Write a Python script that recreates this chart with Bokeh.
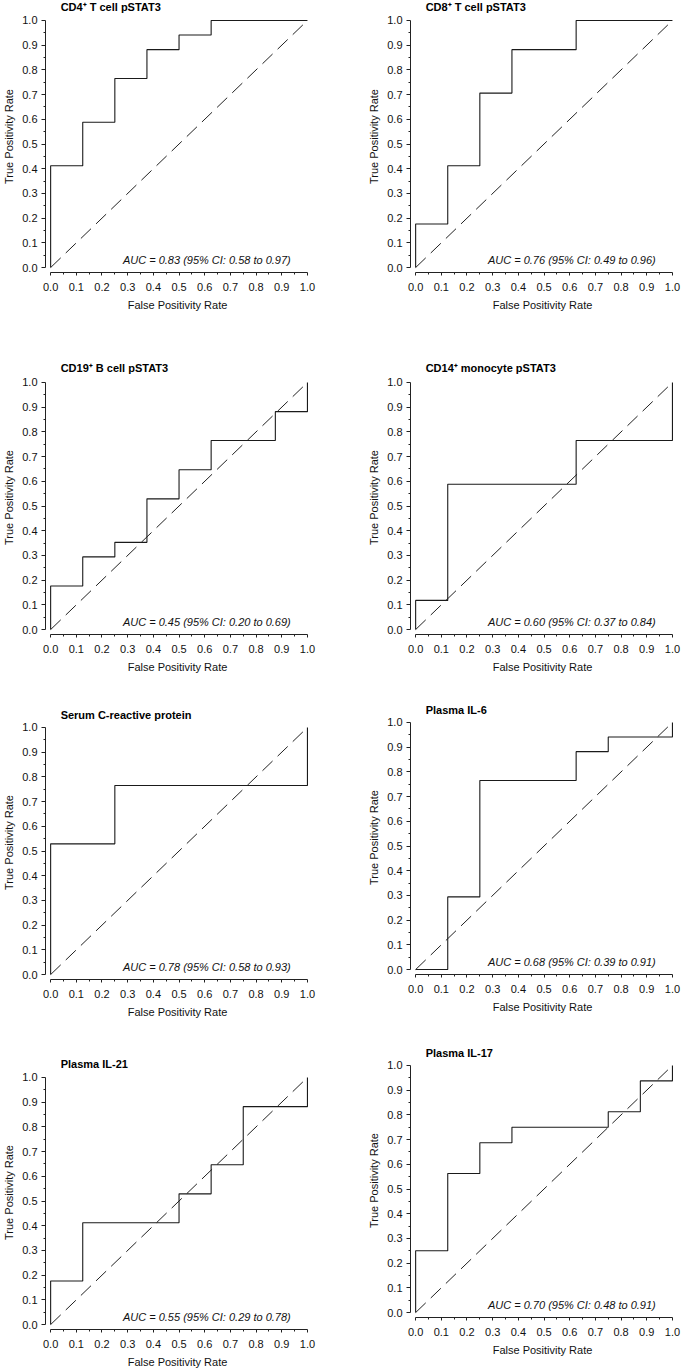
from bokeh.plotting import figure
from bokeh.layouts import column, row
from bokeh.models import Range1d, FixedTicker, PrintfTickFormatter, ColumnDataSource
from bokeh.core.properties import value
from bokeh.embed import file_html
from bokeh.resources import INLINE

# ---------------- data ----------------
titles = ["CD4\u207a T cell pSTAT3", "CD8\u207a T cell pSTAT3",
          "CD19\u207a B cell pSTAT3", "CD14\u207a monocyte pSTAT3",
          "Serum C-reactive protein", "Plasma IL-6",
          "Plasma IL-21", "Plasma IL-17"]

cd4_fpr = [0.0, 0.0, 0.125, 0.25, 0.375, 0.5, 0.625, 1.0]
cd4_tpr = [0.0, 0.412, 0.588, 0.765, 0.882, 0.941, 1.0, 1.0]

cd8_fpr = [0.0, 0.0, 0.125, 0.25, 0.375, 0.625, 1.0]
cd8_tpr = [0.0, 0.176, 0.412, 0.706, 0.882, 1.0, 1.0]

cd19_fpr = [0.0, 0.0, 0.125, 0.25, 0.375, 0.5, 0.625, 0.875, 1.0]
cd19_tpr = [0.0, 0.176, 0.294, 0.353, 0.529, 0.647, 0.765, 0.882, 1.0]

cd14_fpr = [0.0, 0.0, 0.125, 0.625, 1.0]
cd14_tpr = [0.0, 0.118, 0.588, 0.765, 1.0]

crp_fpr = [0.0, 0.0, 0.25, 1.0]
crp_tpr = [0.0, 0.529, 0.765, 1.0]

il6_fpr = [0.0, 0.125, 0.25, 0.625, 0.75, 1.0]
il6_tpr = [0.0, 0.294, 0.765, 0.882, 0.941, 1.0]

il21_fpr = [0.0, 0.0, 0.125, 0.5, 0.625, 0.75, 1.0]
il21_tpr = [0.0, 0.176, 0.412, 0.529, 0.647, 0.882, 1.0]

il17_fpr = [0.0, 0.0, 0.125, 0.25, 0.375, 0.75, 0.875, 1.0]
il17_tpr = [0.0, 0.25, 0.5625, 0.6875, 0.75, 0.8125, 0.9375, 1.0]

auc = [0.83, 0.76, 0.45, 0.60, 0.78, 0.68, 0.55, 0.70]
ci_low = [0.58, 0.49, 0.20, 0.37, 0.58, 0.39, 0.29, 0.48]
ci_high = [0.97, 0.96, 0.69, 0.84, 0.93, 0.91, 0.78, 0.91]

chance_fpr = [0.0, 1.0]
chance_tpr = [0.0, 1.0]

major_ticks = [0.0, 0.1, 0.2, 0.3, 0.4, 0.5, 0.6, 0.7, 0.8, 0.9, 1.0]
minor_ticks = [0.05, 0.15, 0.25, 0.35, 0.45, 0.55, 0.65, 0.75, 0.85, 0.95]

x_label = "False Positivity Rate"
y_label = "True Positivity Rate"

curves = [(cd4_fpr, cd4_tpr), (cd8_fpr, cd8_tpr), (cd19_fpr, cd19_tpr),
          (cd14_fpr, cd14_tpr), (crp_fpr, crp_tpr), (il6_fpr, il6_tpr),
          (il21_fpr, il21_tpr), (il17_fpr, il17_tpr)]

# ---------------- styling / layout ----------------
FONT = "Liberation Sans"
FW, FH = 264, 254
LO, HI = -0.02, 1.008
UNIT = FH / (HI - LO)          # pixels per data unit (vertical)
AUC_X, AUC_Y = 0.935, 0.03
TITLE_X, TITLE_Y = 0.0, 1.0

# (border_top, extra_px_above, border_bottom, border_left, border_right, title_dy)
borders = [
    (0, 18, 68, 45, 20, 13), (0, 18, 68, 81, 12, 13),
    (20, 20, 56, 45, 20, 14), (20, 20, 56, 81, 12, 14),
    (15, 20, 56, 45, 20, 12), (10, 20, 56, 81, 12, 12),
    (20, 20, 41, 45, 20, 13), (13, 20, 53, 81, 12, 12),
]


def style_axis(ax, label, is_x):
    ax.ticker = FixedTicker(ticks=major_ticks, minor_ticks=minor_ticks)
    ax.formatter = PrintfTickFormatter(format="%.1f")
    ax.bounds = (0, 1)
    ax.axis_label = label
    ax.axis_label_text_font = FONT
    ax.axis_label_text_font_size = "11px"
    ax.axis_label_text_font_style = "normal"
    ax.axis_label_text_color = "#111111"
    ax.major_label_text_font = FONT
    ax.major_label_text_font_size = "11px"
    ax.major_label_text_color = "#111111"
    ax.axis_line_color = "#222222"
    ax.major_tick_line_color = "#222222"
    ax.minor_tick_line_color = "#222222"
    ax.major_tick_in = 0
    ax.minor_tick_in = 0
    if is_x:
        ax.major_tick_out = 3
        ax.minor_tick_out = 2
        ax.major_label_standoff = 7
        ax.axis_label_standoff = 5
    else:
        ax.major_tick_out = 4
        ax.minor_tick_out = 2
        ax.major_label_standoff = 4
        ax.axis_label_standoff = 4


def make_panel(i):
    bt, extra, bb, bl, br, tdy = borders[i]
    p = figure(frame_width=FW, frame_height=FH + extra,
               x_range=Range1d(LO, HI), y_range=Range1d(LO, HI + extra / UNIT),
               output_backend="svg", toolbar_location=None,
               min_border_top=bt, min_border_bottom=bb,
               min_border_left=bl, min_border_right=br)
    p.outline_line_color = None
    p.xgrid.visible = False
    p.ygrid.visible = False
    p.background_fill_color = "white"
    p.border_fill_color = "white"
    style_axis(p.xaxis[0], x_label, True)
    style_axis(p.yaxis[0], y_label, False)

    p.text(x=[TITLE_X], y=[TITLE_Y], text=[titles[i]], x_offset=10,
           y_offset=-tdy, text_align="left", text_baseline="middle",
           text_font=value(FONT), text_font_size="11px",
           text_font_style="bold", text_color="#000000")

    p.line(chance_fpr, chance_tpr, line_color="#222222", line_width=1,
           line_dash="14 7")
    fpr, tpr = curves[i]
    src = ColumnDataSource(dict(fpr=fpr, tpr=tpr))
    p.step(x="fpr", y="tpr", source=src, mode="after",
           line_color="#1a1a1a", line_width=1.1)
    txt = "AUC = %.2f (95%% CI: %.2f to %.2f)" % (auc[i], ci_low[i], ci_high[i])
    p.text(x=[AUC_X], y=[AUC_Y], text=[txt], text_align="right",
           text_baseline="middle", text_font=value(FONT),
           text_font_size="11px", text_font_style="italic",
           text_color="#111111")
    return p


panels = [make_panel(i) for i in range(8)]
left_col = column(panels[0], panels[2], panels[4], panels[6])
right_col = column(panels[1], panels[3], panels[5], panels[7])
layout = row(left_col, right_col)

open("out.html", "w").write(file_html(layout, INLINE))
